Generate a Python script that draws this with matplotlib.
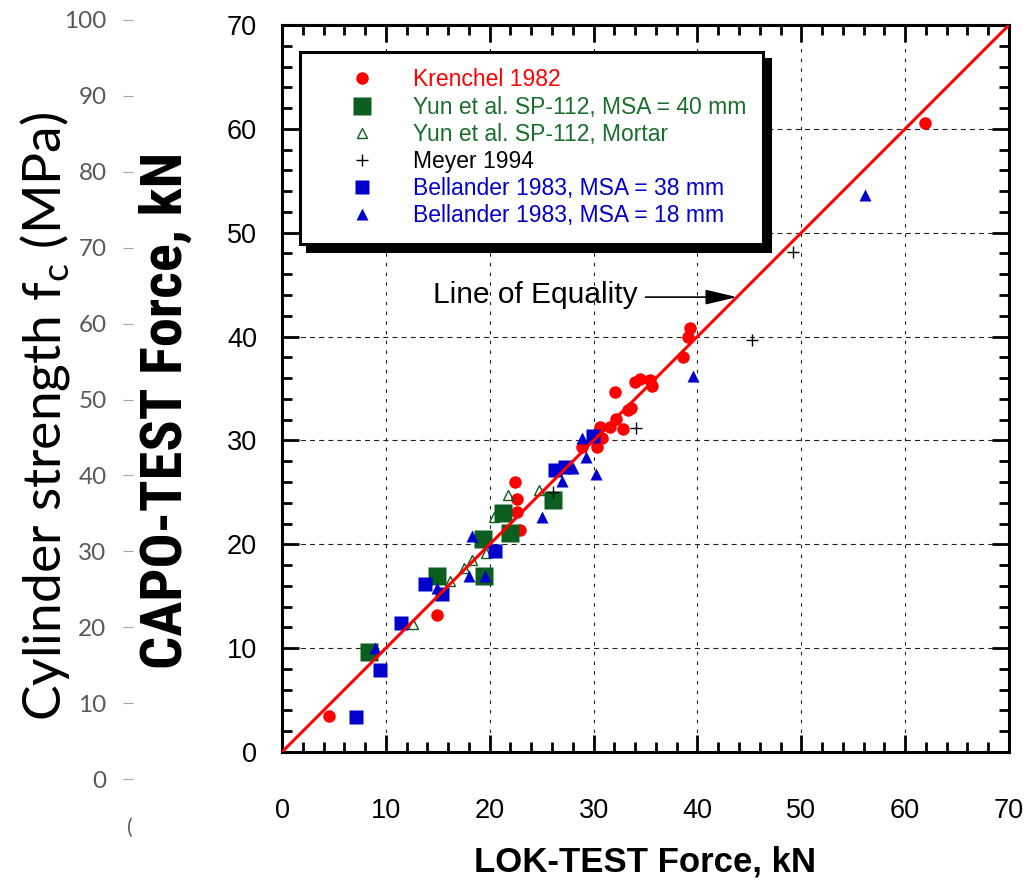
import numpy as np
import matplotlib.pyplot as plt
from matplotlib.ticker import MultipleLocator

plt.rcParams['font.family'] = ['Liberation Sans', 'DejaVu Sans']
plt.rcParams['lines.scale_dashes'] = False

RED = '#ff0000'
GREEN = '#0b5e1d'
GREEN_TXT = '#1a6e2c'
BLUE = '#0000cc'

# Datos (LOK-TEST kN, CAPO-TEST kN)
krenchel_x = [4.5, 14.9, 22.4, 22.65, 22.65, 22.9, 28.85, 30.3, 30.8, 30.6, 31.55, 32.2, 32.85,
              32.05, 33.3, 33.6, 34.0, 34.5, 35.4, 35.6, 38.6, 39.1, 39.3, 61.95]
krenchel_y = [3.5, 13.2, 26.0, 24.4, 23.1, 21.4, 29.4, 29.4, 30.2, 31.25, 31.3, 32.1, 31.1,
              34.7, 32.9, 33.1, 35.65, 35.95, 35.8, 35.2, 38.05, 40.0, 40.8, 60.6]

yun40_x = [8.4, 14.95, 19.4, 19.45, 21.3, 21.95, 26.1]
yun40_y = [9.6, 16.9, 20.5, 16.9, 23.0, 21.1, 24.25]

mortar_x = [12.6, 16.2, 17.5, 18.3, 19.6, 20.4, 21.8, 24.7]
mortar_y = [12.35, 16.5, 17.7, 18.5, 19.2, 22.6, 24.7, 25.2]

meyer_x = [26.1, 34.1, 45.3, 49.2]
meyer_y = [25.0, 31.15, 39.7, 48.15]

bel38_x = [7.1, 9.4, 11.45, 13.8, 15.4, 20.5, 26.3, 27.25, 29.95]
bel38_y = [3.4, 7.9, 12.4, 16.2, 15.2, 19.4, 27.15, 27.45, 30.4]

bel18_x = [8.95, 14.9, 18.0, 18.3, 19.5, 25.0, 27.0, 28.05, 28.85, 29.3, 30.2, 39.6, 56.1]
bel18_y = [10.0, 15.8, 16.9, 20.8, 16.9, 22.6, 26.1, 27.3, 30.2, 28.4, 26.8, 36.2, 53.6]

equal_x = [0, 70]
equal_y = [0, 70]

fc_ticks = list(range(0, 101, 10))

fig = plt.figure(figsize=(10.3, 8.85), dpi=100)
ax = fig.add_axes([282 / 1030, 133 / 885, 727 / 1030, 727 / 885])

ax.plot(krenchel_x, krenchel_y, 'o', color=RED, ms=9, mec='none', label='Krenchel 1982')
ax.plot(yun40_x, yun40_y, 's', color=GREEN, ms=13, mec='none',
        label='Yun et al. SP-112, MSA = 40 mm')
ax.plot(mortar_x, mortar_y, '^', mfc='none', mec=GREEN, mew=1, ms=7.5,
        label='Yun et al. SP-112, Mortar')
ax.plot(meyer_x, meyer_y, '+', color='black', mew=1, ms=9, label='Meyer 1994')
ax.plot(bel38_x, bel38_y, 's', color=BLUE, ms=9.5, mec='none', label='Bellander 1983, MSA = 38 mm')
ax.plot(bel18_x, bel18_y, '^', color=BLUE, ms=8.5, mec='none', label='Bellander 1983, MSA = 18 mm')
ax.plot(equal_x, equal_y, color=RED, lw=2.2, zorder=5)

ax.set_xlim(0, 70)
ax.set_ylim(0, 70)
ax.set_xticks(range(0, 71, 10))
ax.set_yticks(range(0, 71, 10))
ax.xaxis.set_minor_locator(MultipleLocator(2))
ax.yaxis.set_minor_locator(MultipleLocator(2))
ax.tick_params(which='both', direction='in', top=True, right=True, width=2)
ax.tick_params(which='major', length=12, labelsize=19.5)
ax.tick_params(which='minor', length=7)
ax.tick_params(axis='x', which='major', pad=33)
ax.tick_params(axis='y', which='major', pad=18)
for s in ax.spines.values():
    s.set_linewidth(2.2)

ax.set_axisbelow(True)
ax.xaxis.grid(True, linestyle=(0, (2.5, 4.5)), color='#222222', lw=0.8)
ax.yaxis.grid(True, linestyle=(0, (3.6, 3.0)), color='#222222', lw=0.8)

ax.set_xlabel('LOK-TEST Force, kN', fontsize=25, fontweight='bold')
ax.xaxis.set_label_coords(0.499, -0.128)
ax.set_ylabel('CAPO-TEST Force, kN', fontsize=42, fontweight='bold',
              family=['Roboto Condensed', 'Liberation Sans Narrow', 'Liberation Sans'])
ax.yaxis.set_label_coords(-0.121, 0.47)

ax.text(34.2, 44.0, 'Line of Equality', ha='right', va='center', fontsize=21.5)
ax.annotate('', xy=(43.8, 43.8), xytext=(35.0, 43.8),
            arrowprops=dict(arrowstyle='-|>,head_length=0.97,head_width=0.23',
                            color='black', lw=1.2, mutation_scale=20,
                            shrinkA=0, shrinkB=0))

leg = ax.legend(loc='upper left', bbox_to_anchor=(0.0248, 0.9629), borderaxespad=0,
                fontsize=16.5, fancybox=False, edgecolor='black', framealpha=1,
                shadow={'ox': 5, 'oy': -5, 'color': 'black', 'alpha': 1},
                borderpad=0.72, handlelength=4.0, handletextpad=0.22,
                labelspacing=0.18, numpoints=1)
leg.get_frame().set_linewidth(2.2)
leg.set_zorder(10)
for txt, c in zip(leg.get_texts(), [RED, GREEN_TXT, GREEN_TXT, 'black', BLUE, BLUE]):
    txt.set_color(c)

# eje secundario a la izquierda (resistencia del cilindro)
ax2 = fig.add_axes([133 / 1030, 106 / 885, 0.0005, 759 / 885])
ax2.set_ylim(0, 100)
ax2.set_yticks(fc_ticks)
ax2.set_xticks([])
ax2.patch.set_alpha(0)
for s in ax2.spines.values():
    s.set_visible(False)
ax2.tick_params(axis='y', direction='out', length=7, width=0.8, color='#a6a6a6',
                labelcolor='#595959', labelsize=17.5, pad=12)
for lab in ax2.get_yticklabels():
    lab.set_family(['Lato', 'DejaVu Sans'])

fig.text(45 / 1030, 1 - 416 / 885, 'Cylinder strength f$_\\mathregular{c}$ (MPa)',
         rotation=90, ha='center', va='center', fontsize=38.5, family=['Lato', 'DejaVu Sans'])
fig.text(130 / 1030, 1 - 828 / 885, '(', ha='center', va='center', fontsize=15,
         color='#595959', family=['Lato', 'DejaVu Sans'])

fig.savefig('out.png', dpi=100)
